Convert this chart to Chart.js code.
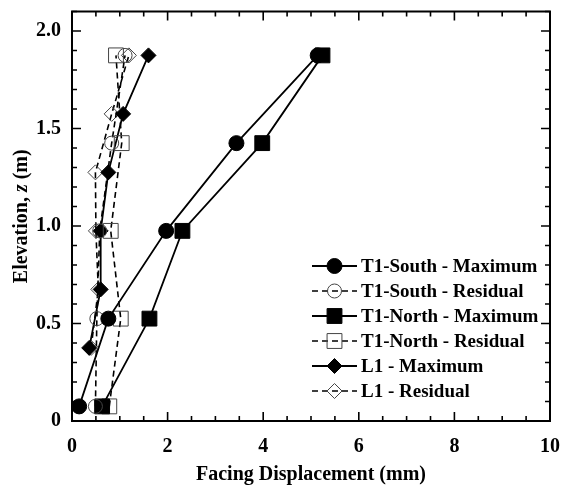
<!DOCTYPE html>
<html>
<head>
<meta charset="utf-8">
<script src="https://cdn.jsdelivr.net/npm/chart.js@4/dist/chart.umd.min.js"></script>
<style>
  html, body { margin: 0; padding: 0; background: #fff; }
  #wrap { width: 565px; height: 486px; }
</style>
</head>
<body>
<div id="wrap"><canvas id="dispChart" width="565" height="486"></canvas></div>
<script>
// elevations of the measurement points (m)
const elevT1 = [0.075, 0.525, 0.975, 1.425, 1.875];
const elevL1 = [0.375, 0.675, 0.975, 1.275, 1.575, 1.875];

// facing displacement (mm)
const southMax = [0.15, 0.76, 1.97, 3.44, 5.14];
const southRes = [0.49, 0.52, 0.58, 0.83, 1.11];
const northMax = [0.63, 1.62, 2.31, 3.98, 5.24];
const northRes = [0.78, 1.02, 0.81, 1.04, 0.92];
const l1Max = [0.36, 0.60, 0.60, 0.76, 1.07, 1.60];
const l1Res = [0.40, 0.55, 0.50, 0.49, 0.83, 1.19];

const seriesNames = [
    "T1-South - Maximum", "T1-South - Residual",
    "T1-North - Maximum", "T1-North - Residual",
    "L1 - Maximum", "L1 - Residual"
];

const xTicks = [0, 2, 4, 6, 8, 10];
const yTicks = [0, 0.5, 1.0, 1.5, 2.0];

const FONT = "'Liberation Serif', 'Times New Roman', serif";

function pts(xs, ys) {
    return xs.map((x, i) => ({ x: x, y: ys[i] }));
}

function series(label, xs, ys, style, filled, dashed, radius) {
    return {
        label: label,
        data: pts(xs, ys),
        showLine: true,
        borderColor: "#000",
        borderWidth: dashed ? 1.6 : 1.8,
        borderDash: dashed ? [6, 4] : [],
        pointStyle: style,
        pointRadius: radius,
        pointBorderWidth: 1,
        pointBorderColor: filled ? "#000" : "#444",
        pointBackgroundColor: filled ? "#000" : "rgba(0,0,0,0)",
        tension: 0
    };
}

// frame with inward ticks on all four sides
const framePlugin = {
    id: "frame",
    afterDatasetsDraw(chart) {
        const { ctx, chartArea: a, scales } = chart;
        const xs = scales.x, ys = scales.y;
        ctx.save();
        ctx.strokeStyle = "#000";
        ctx.lineWidth = 1.6;
        ctx.beginPath();
        for (let i = 0; i <= 20; i++) {
            const px = xs.getPixelForValue(i / 2);
            const len = i % 4 === 0 ? 9 : 5;
            ctx.moveTo(px, a.bottom); ctx.lineTo(px, a.bottom - len);
            ctx.moveTo(px, a.top); ctx.lineTo(px, a.top + len);
        }
        for (let i = 0; i <= 21; i++) {
            const py = ys.getPixelForValue(i / 10);
            const len = i % 5 === 0 ? 9 : 5;
            ctx.moveTo(a.left, py); ctx.lineTo(a.left + len, py);
            ctx.moveTo(a.right, py); ctx.lineTo(a.right - len, py);
        }
        ctx.stroke();
        ctx.lineWidth = 2;
        ctx.strokeRect(a.left, a.top, a.right - a.left, a.bottom - a.top);

        // y title with italic z
        const parts = [["Elevation, ", "bold"], ["z", "italic bold"], [" (m)", "bold"]];
        let total = 0;
        parts.forEach(p => {
            ctx.font = p[1] + " 20px " + FONT;
            total += ctx.measureText(p[0]).width;
        });
        ctx.translate(22, (a.top + a.bottom) / 2);
        ctx.rotate(-Math.PI / 2);
        ctx.fillStyle = "#000";
        ctx.textBaseline = "middle";
        let cx = -total / 2;
        parts.forEach(p => {
            ctx.font = p[1] + " 20px " + FONT;
            ctx.fillText(p[0], cx, 0);
            cx += ctx.measureText(p[0]).width;
        });
        ctx.restore();
    }
};

// legend drawn inside the plot area
const legendPlugin = {
    id: "innerLegend",
    afterDraw(chart) {
        const ctx = chart.ctx;
        const x0 = 312, x1 = 357, tx = 361, y0 = 266, dy = 25;
        ctx.save();
        chart.data.datasets.forEach((ds, i) => {
            const y = y0 + i * dy;
            ctx.strokeStyle = ds.borderColor;
            ctx.lineWidth = ds.borderWidth;
            ctx.setLineDash(ds.borderDash);
            ctx.beginPath();
            ctx.moveTo(x0, y); ctx.lineTo(x1, y);
            ctx.stroke();
            ctx.setLineDash([]);
            ctx.strokeStyle = ds.pointBorderColor;
            ctx.lineWidth = ds.pointBorderWidth;
            ctx.fillStyle = ds.pointBackgroundColor;
            Chart.helpers.drawPoint(ctx, {
                pointStyle: ds.pointStyle,
                radius: ds.pointRadius,
                borderWidth: ds.pointBorderWidth,
                rotation: 0
            }, (x0 + x1) / 2, y);
            ctx.fillStyle = "#000";
            ctx.font = "bold 19px " + FONT;
            ctx.textBaseline = "middle";
            ctx.fillText(ds.label, tx, y + 1);
        });
        ctx.restore();
    }
};

const canvas = document.getElementById("dispChart");
const ctx = canvas.getContext("2d");

new Chart(ctx, {
    type: "scatter",
    data: {
        datasets: [
            series(seriesNames[0], southMax, elevT1, "circle", true, false, 7.5),
            series(seriesNames[1], southRes, elevT1, "circle", false, true, 7),
            series(seriesNames[2], northMax, elevT1, "rect", true, false, 10.5),
            series(seriesNames[3], northRes, elevT1, "rect", false, true, 10.5),
            series(seriesNames[4], l1Max, elevL1, "rectRot", true, false, 7.5),
            series(seriesNames[5], l1Res, elevL1, "rectRot", false, true, 7.5)
        ]
    },
    options: {
        responsive: false,
        animation: false,
        layout: { padding: { top: 8, right: 15, left: 0, bottom: 0 } },
        plugins: {
            legend: { display: false },
            tooltip: { enabled: false }
        },
        scales: {
            x: {
                type: "linear",
                min: 0,
                max: 10,
                afterBuildTicks: s => { s.ticks = xTicks.map(v => ({ value: v })); },
                afterFit: s => { s.height = 65; s.paddingLeft = 0; s.paddingRight = 0; },
                grid: { display: false, drawTicks: false },
                border: { display: false },
                ticks: {
                    color: "#000",
                    padding: 14,
                    maxRotation: 0,
                    font: { family: FONT, size: 20, weight: "bold" },
                    callback: v => String(v)
                },
                title: {
                    display: true,
                    text: "Facing Displacement (mm)",
                    color: "#000",
                    padding: { top: 0, bottom: -1 },
                    font: { family: FONT, size: 20, weight: "bold" }
                }
            },
            y: {
                type: "linear",
                min: 0,
                max: 2.1,
                afterBuildTicks: s => { s.ticks = yTicks.map(v => ({ value: v })); },
                afterFit: s => { s.width = 72; s.paddingTop = 0; s.paddingBottom = 0; },
                grid: { display: false, drawTicks: false },
                border: { display: false },
                ticks: {
                    color: "#000",
                    padding: 11,
                    font: { family: FONT, size: 20, weight: "bold" },
                    callback: v => (v === 0 ? "0" : v.toFixed(1))
                },
                title: { display: false }
            }
        }
    },
    plugins: [framePlugin, legendPlugin]
});
</script>
</body>
</html>
